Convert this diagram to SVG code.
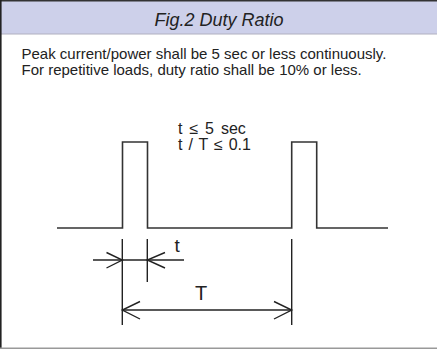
<svg xmlns="http://www.w3.org/2000/svg" width="437" height="349" viewBox="0 0 437 349">
<style>
.txt{font-family:"Liberation Sans",Arial,sans-serif;fill:#222}
.wave{fill:none;stroke:#333;stroke-width:1.6}
.dim{fill:none;stroke:#222;stroke-width:1.4}
</style>
<rect x="0" y="0" width="437" height="349" fill="#fff"/>
<g id="frame">
<rect x="1" y="1" width="436" height="33" fill="#cdd0ea"/>
<line x1="1" y1="34" x2="437" y2="34" stroke="#b0b0c0" stroke-width="1"/>
<line x1="0" y1="0.8" x2="437" y2="0.8" stroke="#333" stroke-width="1.6"/>
<line x1="0.8" y1="0" x2="0.8" y2="348" stroke="#222" stroke-width="1.6"/>
<line x1="0" y1="348.2" x2="437" y2="348.2" stroke="#999" stroke-width="1.6"/>
</g>
<g id="title"><text class="txt" x="219" y="26" font-size="18" font-style="italic" text-anchor="middle">Fig.2 Duty Ratio</text></g>
<g id="description">
<text class="txt" x="21.5" y="59" font-size="15">Peak current/power shall be 5 sec or less continuously.</text>
<text class="txt" x="21.5" y="75" font-size="15">For repetitive loads, duty ratio shall be 10% or less.</text>
</g>
<g id="conditions">
<text class="txt" x="178" y="133.5" font-size="16" word-spacing="2.5">t ≤ 5 sec</text>
<text class="txt" x="178" y="150" font-size="16" word-spacing="1.5">t / T ≤ 0.1</text>
</g>
<g id="waveform">
<polyline class="wave" points="57,228 122.5,228 122.5,142 147.5,142 147.5,228 291.7,228 291.7,142 316.7,142 316.7,228 388,228"/>
</g>
<g id="connectors">
<line class="dim" x1="122.3" y1="239" x2="122.3" y2="325"/>
<line class="dim" x1="147.3" y1="239" x2="147.3" y2="282"/>
<line class="dim" x1="291.7" y1="239" x2="291.7" y2="325"/>
<line class="dim" x1="93" y1="260" x2="184" y2="260"/>
<polyline class="dim" points="106.5,252.5 122.3,260 106.5,268"/>
<polyline class="dim" points="165,252.5 147.3,260 165,268"/>
<line class="dim" x1="122.3" y1="310" x2="291.7" y2="310"/>
<polyline class="dim" points="140,301.5 122.3,310 140,319"/>
<polyline class="dim" points="274,301.5 291.7,310 274,319"/>
</g>
<g id="labels">
<text class="txt" x="174.5" y="251.7" font-size="19">t</text>
<text class="txt" x="201" y="300" font-size="20" text-anchor="middle">T</text>
</g>
</svg>
